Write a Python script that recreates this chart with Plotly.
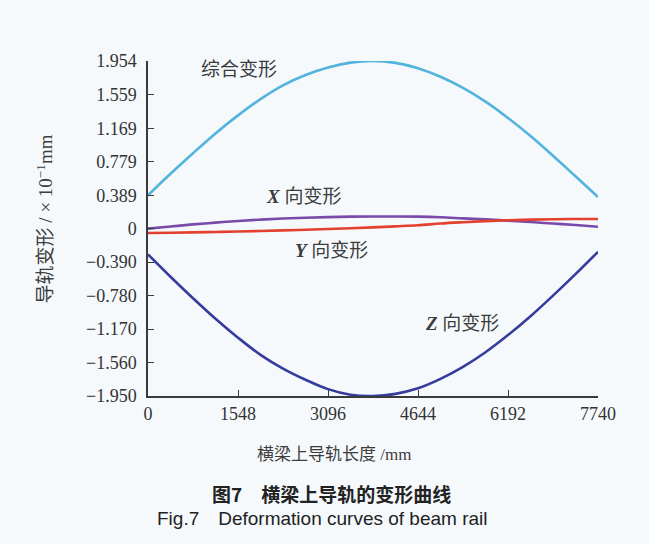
import plotly.graph_objects as go

# Rail length positions along the beam (mm)
length_mm = [0, 387, 774, 1161, 1548, 1935, 2322, 2709, 3096, 3483, 3870,
             4257, 4644, 5031, 5418, 5805, 6192, 6579, 6966, 7353, 7740]

# Deformation values (x 10^-1 mm)
combined = [0.389, 0.64, 0.88, 1.11, 1.32, 1.51, 1.67, 1.79, 1.878, 1.935, 1.954,
            1.932, 1.87, 1.77, 1.64, 1.48, 1.29, 1.08, 0.85, 0.61, 0.37]
dev_x = [0.00, 0.025, 0.05, 0.07, 0.09, 0.105, 0.118, 0.128, 0.135, 0.14, 0.142,
         0.142, 0.14, 0.133, 0.12, 0.108, 0.094, 0.078, 0.06, 0.042, 0.023]
dev_y = [-0.05, -0.047, -0.043, -0.038, -0.033, -0.027, -0.02, -0.012, -0.004, 0.005, 0.015,
         0.027, 0.04, 0.06, 0.075, 0.088, 0.098, 0.105, 0.11, 0.112, 0.113]
dev_z = [-0.30, -0.56, -0.81, -1.05, -1.27, -1.47, -1.63, -1.76, -1.87, -1.935, -1.950,
         -1.925, -1.86, -1.75, -1.61, -1.44, -1.24, -1.02, -0.78, -0.53, -0.27]

x_ticks = [0, 1548, 3096, 4644, 6192, 7740]
y_ticks = [1.954, 1.559, 1.169, 0.779, 0.389, 0, -0.390, -0.780, -1.170, -1.560, -1.950]
y_tick_text = ["1.954", "1.559", "1.169", "0.779", "0.389", "0",
               "\u22120.390", "\u22120.780", "\u22121.170", "\u22121.560", "\u22121.950"]

series = [
    ("综合变形", combined, "#52b3dd"),
    ("X 向变形", dev_x, "#7a4aa8"),
    ("Y 向变形", dev_y, "#e4402e"),
    ("Z 向变形", dev_z, "#363c9c"),
]

fig = go.Figure()
for name, vals, color in series:
    fig.add_trace(go.Scatter(x=length_mm, y=vals, mode="lines", name=name,
                             line=dict(color=color, width=2.6, shape="spline"),
                             showlegend=False))

serif = "Liberation Serif, Noto Sans CJK SC"
cjk = "Noto Sans CJK SC"
label_color = "#3c3c3c"

axis_common = dict(showline=True, linecolor="#3a3a3a", linewidth=1.5,
                   ticks="inside", ticklen=6, tickwidth=1.3, tickcolor="#3a3a3a",
                   showgrid=False, zeroline=False,
                   tickfont=dict(family="Liberation Serif", size=18, color="#333333"))

fig.update_layout(
    width=649, height=544,
    margin=dict(l=148, r=51, t=61, b=148),
    paper_bgcolor="#f5f9fc", plot_bgcolor="#f5f9fc",
    xaxis=dict(range=[0, 7740], tickvals=x_ticks, ticklabelstandoff=1,
               ticktext=[str(v) for v in x_ticks], **axis_common),
    yaxis=dict(range=[-1.950, 1.954], tickvals=y_ticks, ticktext=y_tick_text,
               ticklabelstandoff=6, **axis_common),
)

annotations = [
    # curve labels
    dict(x=1570, y=1.88, xref="x", yref="y", text="综合变形",
         font=dict(family=cjk, size=19, color=label_color)),
    dict(x=2680, y=0.37, xref="x", yref="y", text="<b><i>X</i></b> 向变形",
         font=dict(family=serif, size=19, color=label_color)),
    dict(x=3150, y=-0.25, xref="x", yref="y", text="<b><i>Y</i></b> 向变形",
         font=dict(family=serif, size=19, color=label_color)),
    dict(x=5400, y=-1.10, xref="x", yref="y", text="<b><i>Z</i></b> 向变形",
         font=dict(family=serif, size=19, color=label_color)),
    # axis titles
    dict(x=-0.229, y=0.53, xref="paper", yref="paper", textangle=-90,
         text="导轨变形 / × 10<sup>−1</sup>mm",
         font=dict(family=serif, size=19, color=label_color)),
    dict(x=0.413, y=-0.176, xref="paper", yref="paper",
         text="横梁上导轨长度 /mm",
         font=dict(family=serif, size=17, color=label_color)),
    # figure captions
    dict(x=0.407, y=-0.29, xref="paper", yref="paper",
         text="<b>图7　横梁上导轨的变形曲线</b>",
         font=dict(family=cjk, size=19, color="#222222")),
    dict(x=0.387, y=-0.367, xref="paper", yref="paper",
         text="Fig.7　Deformation curves of beam rail",
         font=dict(family="Liberation Sans", size=19, color="#222222")),
]
for a in annotations:
    a.setdefault("showarrow", False)
    a.setdefault("xanchor", "center")
    a.setdefault("yanchor", "middle")
    fig.add_annotation(**a)

fig.write_html("out.html")
